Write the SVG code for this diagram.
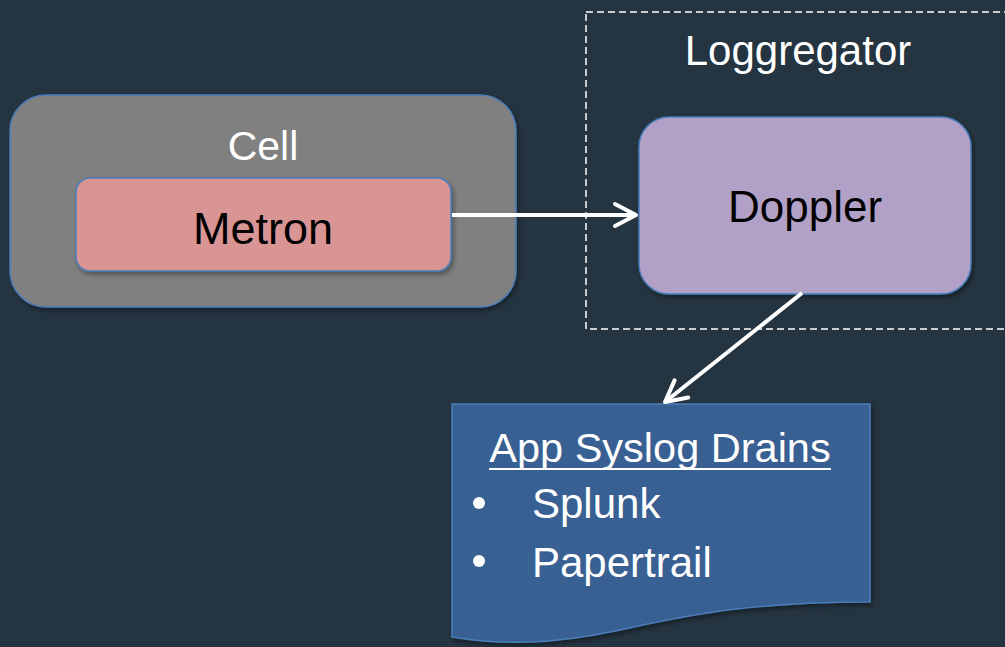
<svg xmlns="http://www.w3.org/2000/svg" width="1005" height="647" viewBox="0 0 1005 647">
  <defs>
    <filter id="sh" x="-10%" y="-10%" width="130%" height="130%">
      <feDropShadow dx="2" dy="3" stdDeviation="2" flood-color="#000" flood-opacity="0.35"/>
    </filter>
    <marker id="chev" markerWidth="28" markerHeight="28" refX="24" refY="14" orient="auto" markerUnits="userSpaceOnUse" viewBox="0 0 28 28">
      <path d="M3,3 L24,14 L3,25" fill="none" stroke="#fff" stroke-width="4" stroke-linecap="round" stroke-linejoin="round"/>
    </marker>
    <style>
      .t { font-family: "Liberation Sans", Arial, sans-serif; text-anchor: middle; }
      .w { fill: #ffffff; }
      .k { fill: #000000; }
      .conn { stroke: #ffffff; stroke-width: 4; fill: none; }
      .box { stroke: #4a7ebb; stroke-width: 1.5; }
    </style>
  </defs>
  <rect x="0" y="0" width="1005" height="647" fill="#243440"/>

  <g id="loggregator">
    <rect x="586" y="12" width="430" height="317" fill="none" stroke="#ffffff" stroke-width="1.5" stroke-dasharray="7,4"/>
    <text class="t w" x="798" y="65" font-size="42">Loggregator</text>
  </g>

  <g id="cell">
    <rect class="box" x="10" y="95" width="506" height="212" rx="36" fill="#808080" filter="url(#sh)"/>
    <text class="t w" x="263" y="160" font-size="41">Cell</text>
  </g>

  <g id="metron">
    <rect class="box" x="76" y="178" width="375" height="93" rx="14" fill="#d99594" filter="url(#sh)"/>
    <text class="t k" x="263" y="244" font-size="45">Metron</text>
  </g>

  <g id="doppler">
    <rect class="box" x="639" y="117" width="332" height="177" rx="30" fill="#b2a1c7" filter="url(#sh)"/>
    <text class="t k" x="805" y="222" font-size="44">Doppler</text>
  </g>

  <g id="drains">
    <path class="box" d="M452,404 L870,404 L870,602 C760,602 700,612 620,630 C550,645 500,645 452,637 Z" fill="#376092" filter="url(#sh)"/>
    <text class="t w" x="660" y="462" font-size="41.5">App Syslog Drains</text>
    <line x1="489" y1="469" x2="831" y2="469" stroke="#ffffff" stroke-width="2"/>
    <circle cx="479" cy="503" r="6" fill="#ffffff"/>
    <circle cx="479" cy="561" r="6" fill="#ffffff"/>
    <text x="532" y="518" font-size="42" fill="#ffffff" font-family="Liberation Sans, Arial, sans-serif">Splunk</text>
    <text x="532" y="577" font-size="42" fill="#ffffff" font-family="Liberation Sans, Arial, sans-serif">Papertrail</text>
  </g>

  <g id="connectors">
    <line class="conn" x1="452" y1="215" x2="636" y2="215" marker-end="url(#chev)"/>
    <line class="conn" x1="802" y1="293" x2="665" y2="402" marker-end="url(#chev)"/>
  </g>
</svg>
